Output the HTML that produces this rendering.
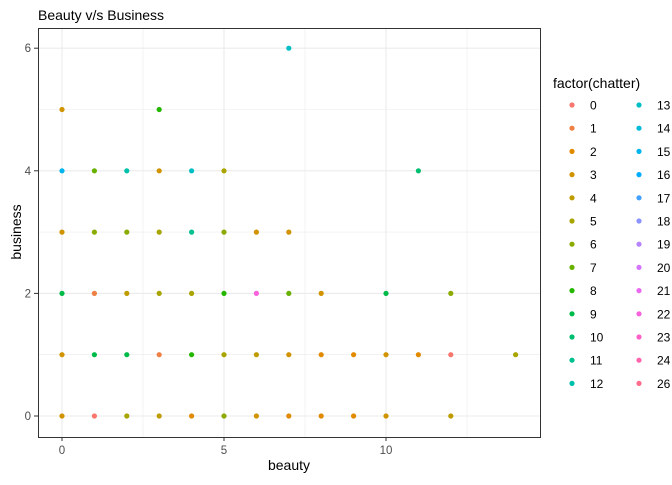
<!DOCTYPE html>
<html><head><meta charset="utf-8"><style>
body{margin:0;background:#fff;}
svg text{font-family:"Liberation Sans",Arial,sans-serif;}
</style></head><body>
<svg id="chart" width="672" height="480" xmlns="http://www.w3.org/2000/svg">
<text x="38" y="20" font-size="14" fill="#000">Beauty v/s Business</text>
<g id="grid"></g>
<g id="pts"></g>
<rect x="38.5" y="28.5" width="502" height="409" fill="none" stroke="#333" stroke-width="1"/>
<g id="axes"></g>
<text x="289" y="470" font-size="14" text-anchor="middle" fill="#000">beauty</text>
<text x="0" y="0" font-size="14" text-anchor="middle" fill="#000" transform="translate(21,232) rotate(-90)">business</text>
<text x="553" y="88" font-size="14" fill="#000">factor(chatter)</text>
<g id="legend"></g>
</svg>
<script>
const levels=["0","1","2","3","4","5","6","7","8","9","10","11","12","13","14","15","16","17","18","19","20","21","22","23","24","26"];
const beauty=[7,0,3,0,1,2,3,4,5,11,0,1,2,3,4,5,6,7,0,1,2,3,4,5,6,7,8,10,12,0,1,2,3,4,5,6,7,8,9,10,11,12,14,0,1,2,3,4,5,6,7,8,9,10,12];
const business=[6,5,5,4,4,4,4,4,4,4,3,3,3,3,3,3,3,3,2,2,2,2,2,2,2,2,2,2,2,1,1,1,1,1,1,1,1,1,1,1,1,1,1,0,0,0,0,0,0,0,0,0,0,0,0];
const chatter=["13","3","8","15","7","12","3","13","5","10","3","6","6","5","11","6","3","3","9","1","4","5","5","8","22","7","3","9","6","3","9","9","1","8","5","4","3","2","2","3","2","0","5","3","0","5","4","2","6","3","2","2","2","3","4"];
const xTicks=[0,5,10], yTicks=[0,2,4,6];
const NS="http://www.w3.org/2000/svg";
const sx=v=>62+32.4*v, sy=v=>416-61.3*v;
function hcl(h){const L=65,C=100,r=h*Math.PI/180;const u=C*Math.cos(r),v=C*Math.sin(r);
const Y=Math.pow((L+16)/116,3);const up=u/(13*L)+0.19784,vp=v/(13*L)+0.46834;
const X=Y*9*up/(4*vp),Z=Y*(12-3*up-20*vp)/(4*vp);
let R=3.2406*X-1.5372*Y-0.4986*Z,G=-0.9689*X+1.8758*Y+0.0415*Z,B=0.0557*X-0.2040*Y+1.0570*Z;
const g=c=>{c=c<=0.0031308?12.92*c:1.055*Math.pow(c,1/2.4)-0.055;return Math.round(Math.max(0,Math.min(1,c))*255);};
return `rgb(${g(R)},${g(G)},${g(B)})`;}
const col={};levels.forEach((l,i)=>col[l]=hcl(15+i*360/levels.length));
function mk(t,a,p){const e=document.createElementNS(NS,t);for(const k in a)e.setAttribute(k,a[k]);p.appendChild(e);return e;}
const grid=document.getElementById('grid');
[0,1,2,3,4,5,6].forEach(v=>{const e=mk('line',{x1:38,x2:540,y1:sy(v),y2:sy(v),stroke:'#ebebeb','stroke-width':v%2?0.6:1.1},grid);

});
[0,2.5,5,7.5,10,12.5].forEach(v=>{const e=mk('line',{y1:28,y2:437,x1:sx(v),x2:sx(v),stroke:'#ebebeb','stroke-width':v%5?0.6:1.1},grid);

});
const ax=document.getElementById('axes');
xTicks.forEach(v=>{mk('line',{x1:sx(v),x2:sx(v),y1:437,y2:441,stroke:'#333'},ax);
const t=mk('text',{x:sx(v),y:454,'font-size':11.5,'text-anchor':'middle',fill:'#4d4d4d'},ax);t.textContent=v;

});
yTicks.forEach(v=>{mk('line',{x1:34,x2:38,y1:sy(v),y2:sy(v),stroke:'#333'},ax);
const t=mk('text',{x:31,y:sy(v)+4,'font-size':11.5,'text-anchor':'end',fill:'#4d4d4d'},ax);t.textContent=v;

});
const pts=document.getElementById('pts');
beauty.forEach((b,i)=>{const c=mk('circle',{cx:sx(b),cy:sy(business[i]),r:2.6,fill:col[chatter[i]]},pts);

});
const lg=document.getElementById('legend');
levels.forEach((l,i)=>{const cx=i<13?572:639,cy=105+(i%13)*23.2;
const c=mk('circle',{cx:cx,cy:cy,r:2.6,fill:col[l]},lg);


const t=mk('text',{x:cx+18,y:cy+4.5,'font-size':12,fill:'#000'},lg);t.textContent=l;

});
</script>
</body></html>
